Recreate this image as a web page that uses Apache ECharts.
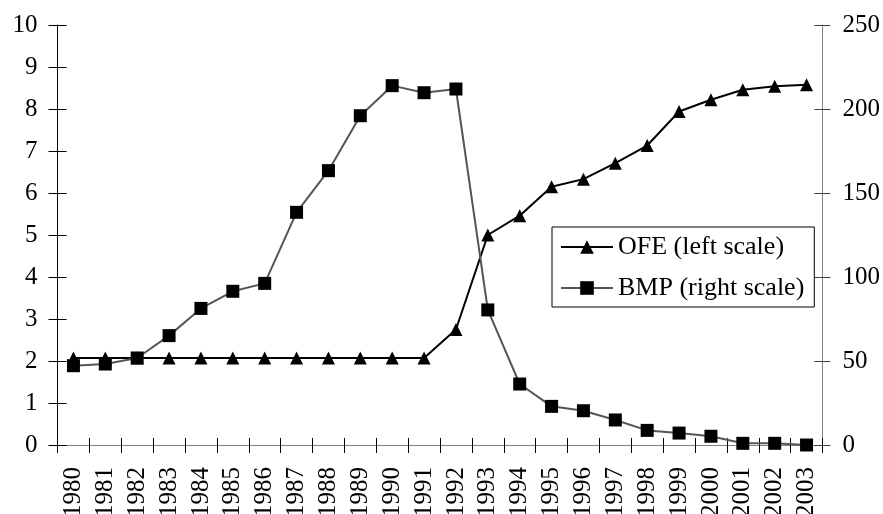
<!DOCTYPE html>
<html>
<head>
<meta charset="utf-8">
<script src="https://cdn.jsdelivr.net/npm/echarts@6/dist/echarts.min.js"></script>
<style>
html, body { margin: 0; padding: 0; background: #fff; }
#chart { width: 883px; height: 514px; }
</style>
</head>
<body>
<div id="chart"></div>
<script>
// data
const years = ['1980', '1981', '1982', '1983', '1984', '1985', '1986', '1987', '1988', '1989', '1990', '1991',
    '1992', '1993', '1994', '1995', '1996', '1997', '1998', '1999', '2000', '2001', '2002', '2003'];
const ofe = [2.07, 2.07, 2.07, 2.07, 2.07, 2.07, 2.07, 2.07, 2.07, 2.07, 2.07, 2.07,
    2.75, 5.0, 5.46, 6.15, 6.33, 6.71, 7.13, 7.94, 8.22, 8.46, 8.54, 8.58];
const bmp = [47.2, 48.2, 51.8, 65.1, 81.3, 91.5, 96.2, 138.5, 163.3, 196, 213.9, 209.7,
    211.9, 80.4, 36.3, 23, 20.4, 14.9, 8.7, 7.1, 5.2, 1, 1, 0];
const seriesNames = ['OFE (left scale)', 'BMP (right scale)'];

const font = 'Liberation Serif';
const chart = echarts.init(document.getElementById('chart'));

chart.setOption({
    animation: false,
    backgroundColor: '#fff',
    grid: { left: 57.5, right: 60.5, top: 25, bottom: 69, outerBoundsMode: 'none', containLabel: false },
    legend: {
        data: seriesNames,
        orient: 'vertical',
        left: 552,
        top: 227,
        padding: [7, 10, 6, 8],
        itemGap: 15,
        itemWidth: 52,
        itemHeight: 17,
        borderColor: '#000',
        borderWidth: 1,
        textStyle: { fontFamily: font, fontSize: 26, color: '#000' }
    },
    xAxis: [
        {   // main category axis, ticks outward
            type: 'category',
            data: years,
            position: 'bottom',
            boundaryGap: true,
            axisLine: { lineStyle: { color: '#000', width: 1 } },
            axisTick: { show: true, inside: false, length: 8, interval: 0, lineStyle: { color: '#000' } },
            axisLabel: { interval: 0, rotate: 90, margin: 22, fontFamily: font, fontSize: 25, color: '#000' },
            splitLine: { show: false }
        },
        {   // same axis, inward half of the crossing ticks
            type: 'category',
            data: years,
            position: 'bottom',
            boundaryGap: true,
            axisLine: { show: false },
            axisTick: { show: true, inside: true, length: 7, interval: 0, lineStyle: { color: '#000' } },
            axisLabel: { show: false, interval: 0 },
            splitLine: { show: false }
        },
        {   // top border of the plot
            type: 'category',
            data: years,
            position: 'top',
            axisLine: { lineStyle: { color: '#808080', width: 1 } },
            axisTick: { show: false },
            axisLabel: { show: false },
            splitLine: { show: false }
        }
    ],
    yAxis: [
        {
            type: 'value',
            position: 'left',
            min: 0, max: 10, interval: 1,
            axisLine: { show: true, lineStyle: { color: '#000', width: 1 } },
            axisTick: { show: true, inside: false, length: 9, lineStyle: { color: '#000' } },
            axisLabel: { margin: 20, fontFamily: font, fontSize: 25, color: '#000' },
            splitLine: { show: false }
        },
        {
            type: 'value',
            position: 'right',
            min: 0, max: 250, interval: 50,
            axisLine: { show: true, lineStyle: { color: '#808080', width: 1 } },
            axisTick: { show: true, inside: false, length: 8, lineStyle: { color: '#404040' } },
            axisLabel: { margin: 20, fontFamily: font, fontSize: 25, color: '#000' },
            splitLine: { show: false }
        },
        {
            type: 'value',
            position: 'left',
            min: 0, max: 10, interval: 1,
            axisLine: { show: false },
            axisTick: { show: true, inside: true, length: 9, lineStyle: { color: '#000' } },
            axisLabel: { show: false },
            splitLine: { show: false }
        },
        {
            type: 'value',
            position: 'right',
            min: 0, max: 250, interval: 50,
            axisLine: { show: false },
            axisTick: { show: true, inside: true, length: 8, lineStyle: { color: '#404040' } },
            axisLabel: { show: false },
            splitLine: { show: false }
        }
    ],
    series: [
        {
            name: seriesNames[0],
            type: 'line',
            xAxisIndex: 0,
            yAxisIndex: 0,
            data: ofe,
            symbol: 'triangle',
            symbolSize: 13,
            lineStyle: { color: '#000', width: 2 },
            itemStyle: { color: '#000' },
            emphasis: { disabled: true }
        },
        {
            name: seriesNames[1],
            type: 'line',
            xAxisIndex: 0,
            yAxisIndex: 1,
            data: bmp,
            symbol: 'rect',
            symbolSize: 13,
            lineStyle: { color: '#555', width: 2 },
            itemStyle: { color: '#000' },
            emphasis: { disabled: true }
        }
    ]
});
</script>
</body>
</html>
